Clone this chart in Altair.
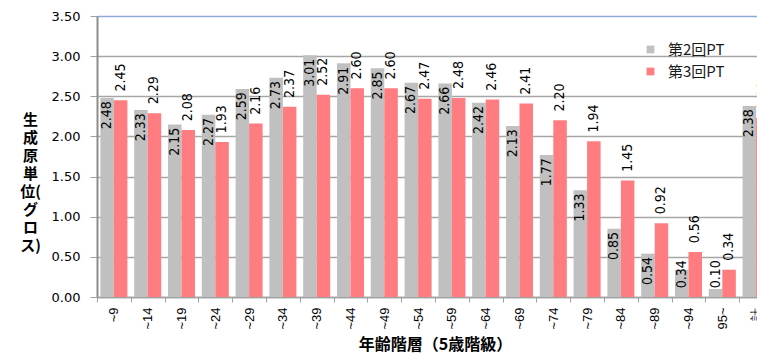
import altair as alt
import pandas as pd

# Age groups (5-year classes) and trip generation rates for the two surveys
age_groups = ["~9", "~14", "~19", "~24", "~29", "~34", "~39", "~44", "~49", "~54",
              "~59", "~64", "~69", "~74", "~79", "~84", "~89", "~94", "95~", "計"]
pt2_values = [2.48, 2.33, 2.15, 2.27, 2.59, 2.73, 3.01, 2.91, 2.85, 2.67,
              2.66, 2.42, 2.13, 1.77, 1.33, 0.85, 0.54, 0.34, 0.10, 2.38]
pt3_values = [2.45, 2.29, 2.08, 1.93, 2.16, 2.37, 2.52, 2.60, 2.60, 2.47,
              2.48, 2.46, 2.41, 2.20, 1.94, 1.45, 0.92, 0.56, 0.34, 2.23]
series_names = ["第2回PT", "第3回PT"]
series_colors = ["#c0c0c0", "#ff7c80"]
y_ticks = [0, 0.5, 1.0, 1.5, 2.0, 2.5, 3.0, 3.5]

rows = []
for i, g in enumerate(age_groups):
    rows.append({"age": g, "series": series_names[0], "value": pt2_values[i]})
    rows.append({"age": g, "series": series_names[1], "value": pt3_values[i]})
df = pd.DataFrame(rows)

STEP = 33.8
N = len(age_groups)
JP = "Noto Sans CJK JP"
NUM_NARROW = "Liberation Sans Narrow, DejaVu Sans Condensed, Liberation Sans"

x_axis = alt.Axis(
    title="年齢階層（5歳階級）",
    labelAngle=270,
    labelFont="Liberation Sans",
    labelFontSize=13,
    labelColor="#000000",
    labelPadding=5,
    tickSize=5,
    tickColor="#a0a0a0",
    tickOffset=-STEP / 2,
    labelOffset=STEP / 2,
    domainColor="#a0a0a0",
    domainWidth=1.5,
    grid=False,
    titleFont=JP,
    titleFontSize=16,
    titleFontWeight="bold",
    titleColor="#000000",
    titleBaseline="alphabetic",
    titleY=52,
)
x_scale = alt.Scale(range=[0, STEP * N], paddingInner=0.2, paddingOuter=0.1)

y_axis = alt.Axis(
    title=["生", "成", "原", "単", "位(", "グ", "ロ", "ス)"],
    values=y_ticks,
    format=".2f",
    labelFont="DejaVu Sans",
    labelFontSize=13,
    labelColor="#000000",
    labelPadding=10,
    tickSize=7,
    tickColor="#a0a0a0",
    domainColor="#8c8c8c",
    domainWidth=2,
    gridColor={"condition": {"test": "datum.value === 3.5", "value": "#8eaadb"},
               "value": "#a6a6a6"},
    gridWidth=1.5,
    titleAngle=0,
    titleX=-67,
    titleY=96,
    titleAlign="center",
    titleBaseline="top",
    titleFont=JP,
    titleFontSize=15,
    titleFontWeight="bold",
    titleLineHeight=18,
    titleColor="#000000",
)
y_scale = alt.Scale(domain=[0, 3.5], nice=False)

x_offset = alt.XOffset("series:N", sort=series_names,
                       scale=alt.Scale(paddingInner=0, paddingOuter=0))

bars = alt.Chart(df).mark_bar().encode(
    x=alt.X("age:N", sort=age_groups, scale=x_scale, axis=x_axis),
    xOffset=x_offset,
    y=alt.Y("value:Q", scale=y_scale, axis=y_axis),
    color=alt.Color(
        "series:N",
        sort=series_names,
        scale=alt.Scale(domain=series_names, range=series_colors),
        legend=alt.Legend(
            title=None,
            orient="none",
            legendX=546,
            legendY=26,
            symbolType="square",
            symbolSize=60,
            symbolStrokeWidth=0,
            labelFont=JP,
            labelFontSize=15,
            labelColor="#1a1a1a",
            labelOffset=10,
            rowPadding=6,
        ),
    ),
)

# Value labels: 第2回 inside the bar top, 第3回 just above the bar
labels = alt.Chart(df).transform_calculate(
    label_pos="datum.series === '第2回PT' ? max(datum.value - 0.39, 0.11) : datum.value + 0.11"
).mark_text(
    angle=270, align="left", baseline="middle",
    font=NUM_NARROW, fontSize=14, color="#000000",
).encode(
    x=alt.X("age:N", sort=age_groups, scale=x_scale, axis=x_axis),
    xOffset=x_offset,
    y=alt.Y("label_pos:Q", scale=y_scale, axis=y_axis),
    text=alt.Text("value:Q", format=".2f"),
)

chart = alt.layer(bars, labels).properties(
    width=660,
    height=281,
    autosize=alt.AutoSizeParams(type="none"),
    padding={"left": 97, "top": 16, "right": 0, "bottom": 57},
    background="white",
).configure_view(stroke=None)

chart.save("out.html", embed_options={"renderer": "svg", "actions": False})
